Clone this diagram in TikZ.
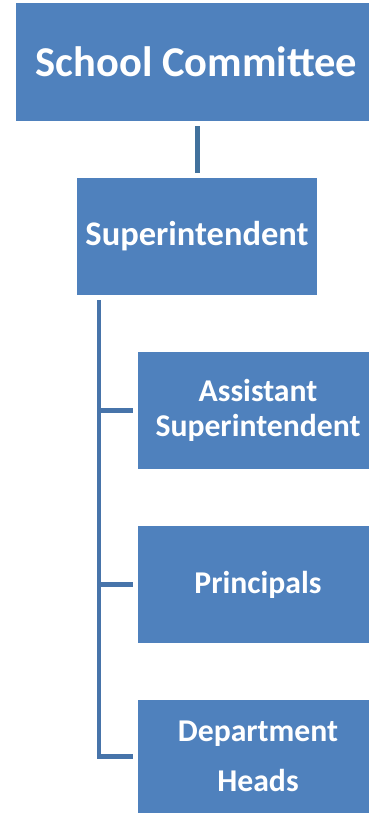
\documentclass[tikz,border=0pt]{standalone}
\usepackage{fontspec}
\setmainfont{Carlito}
\usepackage{xcolor}
\usepackage{tikz}

\definecolor{boxblue}{HTML}{4F81BD}
\definecolor{lineblue}{HTML}{41719C}

\begin{document}
\begin{tikzpicture}[x=1pt,y=-1pt,
  box/.style={rectangle,fill=boxblue,text=white,inner sep=0pt,align=center},
  small/.style={box,minimum width=240pt,minimum height=117pt,font=\bfseries\fontsize{31.7}{35}\selectfont},
  link/.style={line width=5pt,draw=lineblue},
  tree/.style={line width=4.5pt,draw=boxblue!90!black}]
\useasboundingbox (0,0) rectangle (369,813);

\node[box,minimum width=361pt,minimum height=118pt,font=\bfseries\fontsize{42.5}{46}\selectfont] (1) at (196.5,62) {School Committee};

\node[box,minimum width=240pt,minimum height=117pt,font=\bfseries\fontsize{34.5}{38}\selectfont] (2) at (197,236.5) {Superintendent};

\node[small] (3) at (258,410.5) {Assistant\\Superintendent};

\node[small] (4) at (258,584.5) {Principals};

\node[small,minimum height=113pt] (5) at (258,756.5) {Department\\[15pt]Heads};

\coordinate (t) at (99,300);

\draw[link,shorten <=5pt,shorten >=5pt] (1.south -| 2.north) -- (2.north);
\draw[tree] (t) |- ([xshift=-5pt]5.west);
\draw[tree] (t) |- ([xshift=-5pt]3.west);
\draw[tree] (t) |- ([xshift=-5pt]4.west);
\end{tikzpicture}
\end{document}
